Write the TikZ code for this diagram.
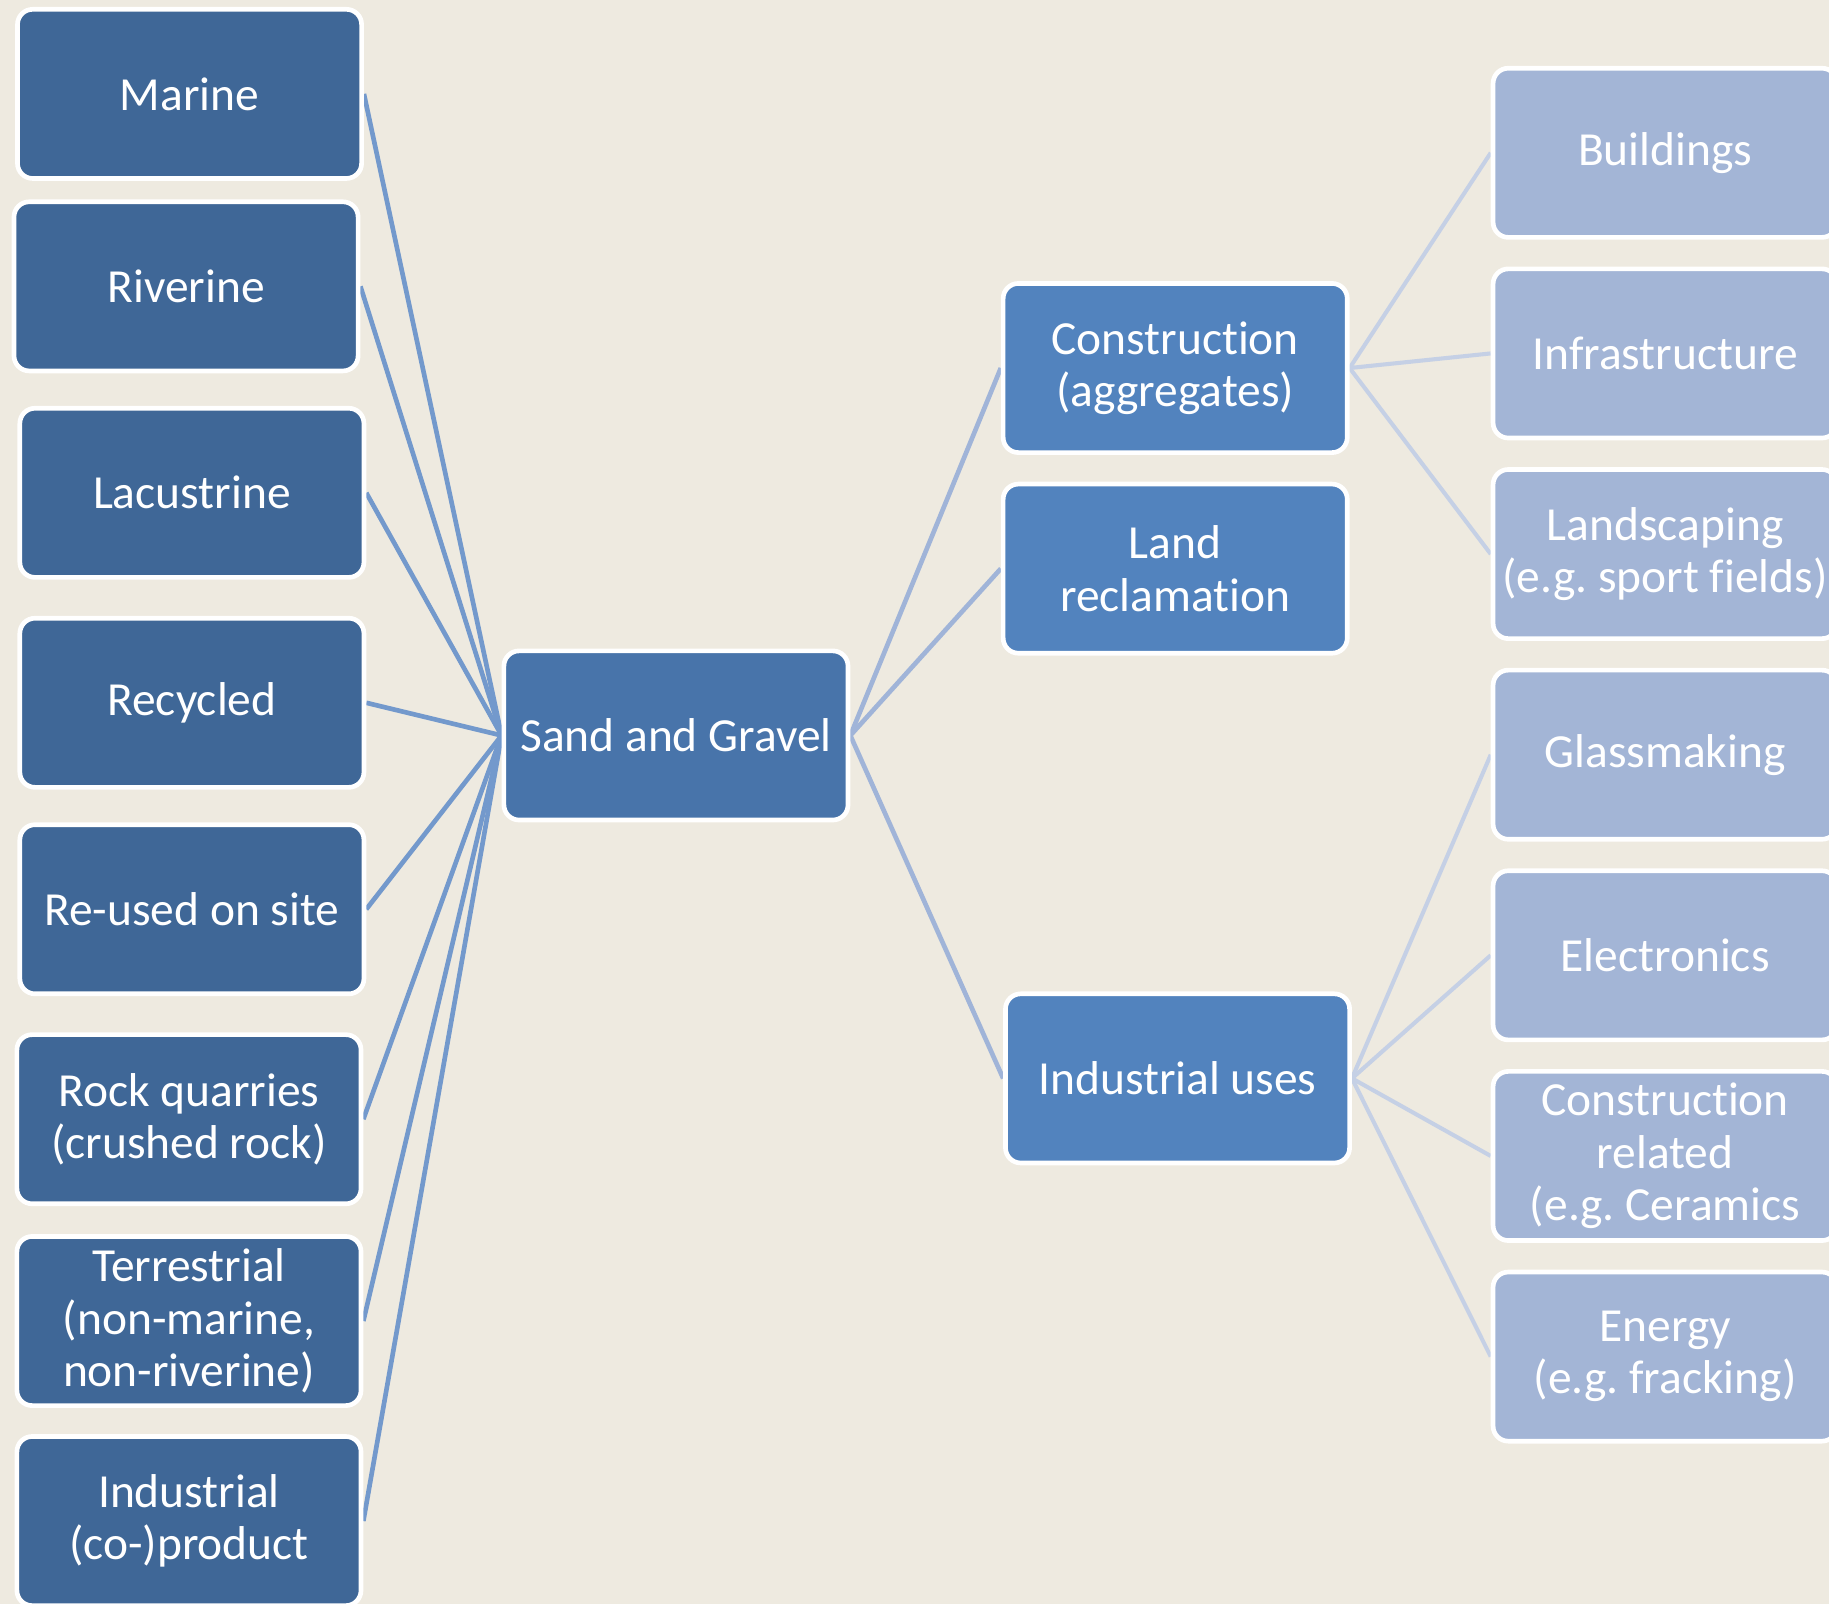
\documentclass[tikz,border=0pt]{standalone}
\usepackage{fontspec}
\setmainfont[Ligatures=NoCommon]{Carlito}
\frenchspacing
\pgfdeclarelayer{bg}
\pgfsetlayers{bg,main}
\definecolor{bgc}{HTML}{EEEAE0}
\definecolor{darkbox}{HTML}{3F6797}
\definecolor{centbox}{HTML}{4874AA}
\definecolor{midbox}{HTML}{5283BE}
\definecolor{lightbox}{HTML}{A3B5D6}
\definecolor{lineA}{HTML}{7399CC}
\definecolor{lineB}{HTML}{A0B4D8}
\definecolor{lineC}{HTML}{C5D0E5}
\tikzset{
  box/.style={draw=white, line width=4pt, rounded corners=13pt,
    minimum width=295pt, minimum height=145pt, inner sep=2pt,
    text=white, align=center,
    font=\fontsize{40.7}{45}\selectfont},
  srcbox/.style={box, fill=darkbox},
  rootbox/.style={box, fill=centbox},
  usebox/.style={box, fill=midbox},
  subbox/.style={box, fill=lightbox},
  conA/.style={draw=lineA, line width=4pt},
  conB/.style={draw=lineB, line width=4pt},
  conC/.style={draw=lineC, line width=3.5pt}
}
\begin{document}
\begin{tikzpicture}[x=1pt,y=-1pt]
\useasboundingbox (0,0) rectangle (1568,1375);
\clip (0,0) rectangle (1568,1375);
\begin{pgfonlayer}{bg}
\fill[bgc] (0,0) rectangle (1568,1375);
\end{pgfonlayer}
% sources
\node[srcbox] (marine) at (162.5,80.5) {Marine};
\node[srcbox] (riverine) at (159.5,245.5) {Riverine};
\node[srcbox] (lacustrine) at (164.5,422.5) {Lacustrine};
\node[srcbox] (recycled) at (164.5,602.5) {Recycled};
\node[srcbox] (reused) at (164.5,779.5) {Re-used on site};
\node[srcbox] (rock) at (162,959.5) {Rock quarries\\(crushed rock)};
\node[srcbox] (terr) at (162,1132.5) {Terrestrial\\(non-marine,\\non-riverine)};
\node[srcbox] (indprod) at (162,1304) {Industrial\\(co-)product};
% root
\node[rootbox] (sg) at (579.5,630.5) {Sand and Gravel};
% uses
\node[usebox] (constr) at (1007.5,315.5) {Construction\\(aggregates)};
\node[usebox] (land) at (1007.5,487.5) {Land\\reclamation};
\node[usebox] (induse) at (1009.5,924.5) {Industrial uses};
% sub uses
\node[subbox] (build) at (1427.5,131) {Buildings};
\node[subbox] (infra) at (1427.5,303) {Infrastructure};
\node[subbox] (land2) at (1427.5,475) {Landscaping\\(e.g. sport fields)};
\node[subbox] (glass) at (1427.5,647) {Glassmaking};
\node[subbox] (elec) at (1427.5,819) {Electronics};
\node[subbox] (crel) at (1427.5,991) {Construction\\related\\(e.g. Ceramics};
\node[subbox] (energy) at (1427.5,1163) {Energy\\(e.g. fracking)};
\begin{pgfonlayer}{bg}
\foreach \n in {marine,riverine,lacustrine,recycled,reused,rock,terr,indprod}
  \draw[conA] (\n.east) -- (sg.west);
\foreach \n in {constr,land,induse}
  \draw[conB] (sg.east) -- (\n.west);
\foreach \n in {build,infra,land2}
  \draw[conC] (constr.east) -- (\n.west);
\foreach \n in {glass,elec,crel,energy}
  \draw[conC] (induse.east) -- (\n.west);
\end{pgfonlayer}
\end{tikzpicture}
\end{document}
